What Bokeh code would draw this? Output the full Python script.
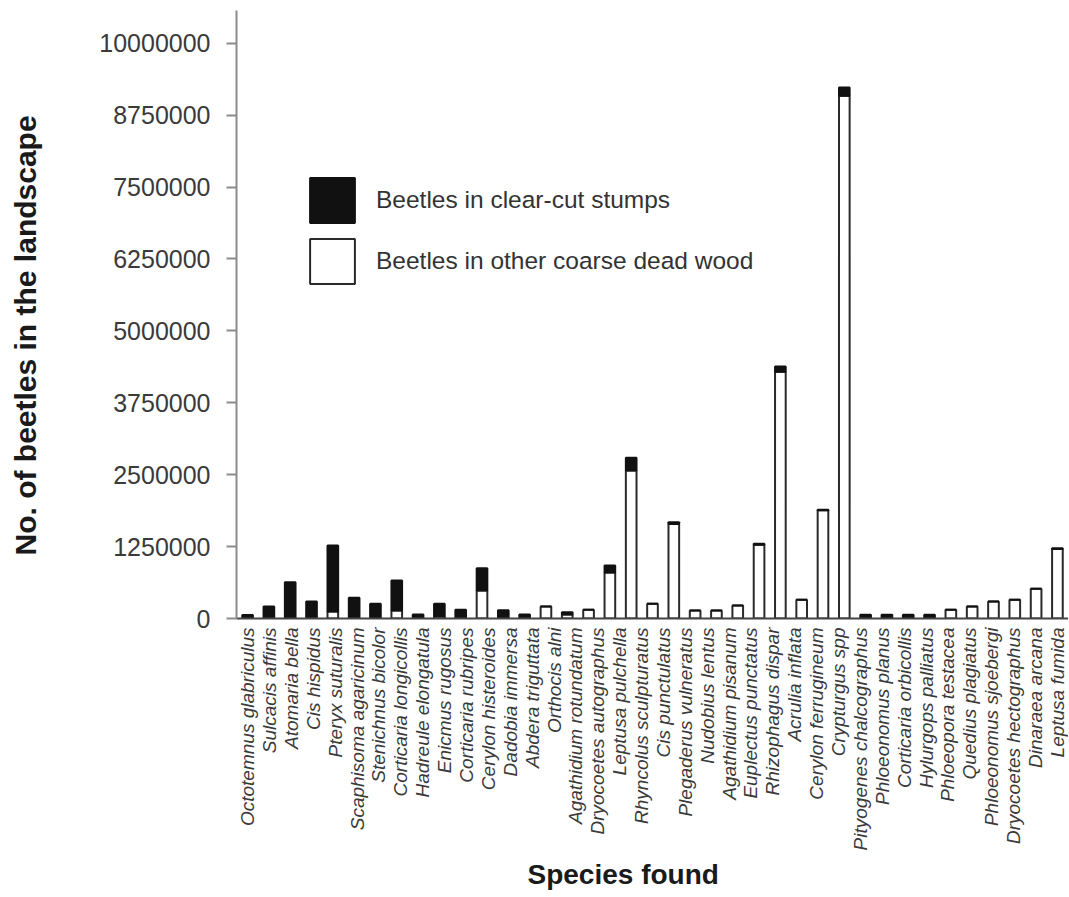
import math
from bokeh.plotting import figure
from bokeh.models import (FixedTicker, BasicTickFormatter, CustomJSTickFormatter,
                          Legend, LegendItem, Range1d, ColumnDataSource, Title)
from bokeh.embed import file_html
from bokeh.resources import INLINE

# ---- data ----
species = [
    "Octotemnus glabriculus", "Sulcacis affinis", "Atomaria bella", "Cis hispidus",
    "Pteryx suturalis", "Scaphisoma agaricinum", "Stenichnus bicolor",
    "Corticaria longicollis", "Hadreule elongatula", "Enicmus rugosus",
    "Corticaria rubripes", "Cerylon histeroides", "Dadobia immersa",
    "Abdera triguttata", "Orthocis alni", "Agathidium rotundatum",
    "Dryocoetes autographus", "Leptusa pulchella", "Rhyncolus sculpturatus",
    "Cis punctulatus", "Plegaderus vulneratus", "Nudobius lentus",
    "Agathidium pisanum", "Euplectus punctatus", "Rhizophagus dispar",
    "Acrulia inflata", "Cerylon ferrugineum", "Crypturgus spp",
    "Pityogenes chalcographus", "Phloeonomus planus", "Corticaria orbicollis",
    "Hylurgops palliatus", "Phloeopora testacea", "Quedius plagiatus",
    "Phloeonomus sjoebergi", "Dryocoetes hectographus", "Dinaraea arcana",
    "Leptusa fumida",
]

# bars as drawn in the figure (39 bars under 38 labels)
stumps = [60000, 210000, 630000, 265000, 1150000, 360000, 255000, 520000, 70000,
          215000, 150000, 388000, 145000, 70000, 0, 40000, 0, 120000, 220000,
          0, 30000, 0, 0, 0, 20000, 90000, 0, 10000, 140000,
          65000, 65000, 65000, 65000, 0, 0, 0, 0, 0, 10000]
other = [0, 0, 0, 30000, 120000, 0, 0, 140000, 0,
         40000, 0, 487000, 0, 0, 210000, 70000, 150000, 800000, 2575000,
         255000, 1645000, 140000, 140000, 226000, 1280000, 4290000, 325000, 1880000, 9090000,
         0, 0, 0, 0, 150000, 209000, 296000, 325000, 517000, 1210000]

y_ticks = [0, 1250000, 2500000, 3750000, 5000000, 6250000, 7500000, 8750000, 10000000]

legend_labels = ["Beetles in clear-cut stumps", "Beetles in other coarse dead wood"]
x_title = "Species found"
y_title = "No. of beetles in the landscape"

# ---- build ----
n = len(stumps)
xs = list(range(n))
src = ColumnDataSource(dict(
    x=xs,
    white_top=other,
    black_top=[o + s for o, s in zip(other, stumps)],
))

Y_MAX = 10570000
p = figure(frame_width=832, frame_height=608,
           x_range=Range1d(-0.52, n - 0.48), y_range=Range1d(0, Y_MAX),
           output_backend="svg", toolbar_location=None,
           min_border_left=236, min_border_right=0, min_border_top=10,
           min_border_bottom=0)

bw = 0.5
r_white = p.vbar(x="x", bottom=0, top="white_top", width=bw, source=src,
                 fill_color="white", line_color="#2a2a2a", line_width=2)
r_black = p.vbar(x="x", bottom="white_top", top="black_top", width=bw, source=src,
                 fill_color="#111111", line_color="#111111", line_width=2)

p.xgrid.grid_line_color = None
p.ygrid.grid_line_color = None
p.outline_line_color = None

ya = p.yaxis[0]
ya.ticker = FixedTicker(ticks=y_ticks)
ya.formatter = BasicTickFormatter(use_scientific=False)
ya.axis_line_color = "#8c8c8c"
ya.axis_line_width = 2
ya.major_tick_line_color = "#8c8c8c"
ya.major_tick_line_width = 2
ya.major_tick_out = 10
ya.major_tick_in = 0
ya.minor_tick_line_color = None
ya.major_label_standoff = 16
ya.major_label_text_font = "Liberation Sans"
ya.major_label_text_font_size = "25px"
ya.major_label_text_color = "#3a3a3a"
# blank spacer label: widens the axis panel so the title below sits further left
ya.axis_label = " "
ya.axis_label_text_font_size = "1px"
ya.axis_label_standoff = 51

# 38 labels spread across the 39 bars, as in the original figure
label_pos = [j * (n - 1) / (len(species) - 1) for j in range(len(species))]
xa = p.xaxis[0]
xa.ticker = FixedTicker(ticks=label_pos)
xa.formatter = CustomJSTickFormatter(args=dict(names=species), code="return names[index];")
xa.axis_line_color = "#444444"
xa.axis_line_width = 2
xa.major_tick_line_color = None
xa.major_tick_out = 0
xa.major_tick_in = 0
xa.minor_tick_line_color = None
xa.major_label_orientation = math.pi / 2
xa.major_label_standoff = 9
xa.major_label_text_font = "Liberation Sans"
xa.major_label_text_font_style = "italic"
xa.major_label_text_font_size = "19px"
xa.major_label_text_color = "#3a3a3a"

# axis titles as side titles (offset lets them sit where the original has them)
p.add_layout(Title(text=y_title, align="left", offset=63, standoff=0,
                   text_font="Liberation Sans", text_font_style="bold",
                   text_font_size="30px", text_color="#1a1a1a"), "left")
p.add_layout(Title(text=x_title, align="left", offset=291, standoff=6,
                   text_font="Liberation Sans", text_font_style="bold",
                   text_font_size="28px", text_color="#1a1a1a"), "below")

legend = Legend(items=[LegendItem(label=legend_labels[0], renderers=[r_black]),
                       LegendItem(label=legend_labels[1], renderers=[r_white])],
                location=(68, 329), orientation="vertical",
                glyph_width=56, glyph_height=56, spacing=5, padding=0, margin=0,
                label_standoff=16, label_text_font="Liberation Sans",
                label_text_font_size="24.5px", label_text_color="#333333",
                border_line_color=None, background_fill_alpha=0)
p.add_layout(legend, "center")

open("out.html", "w").write(file_html(p, INLINE))
